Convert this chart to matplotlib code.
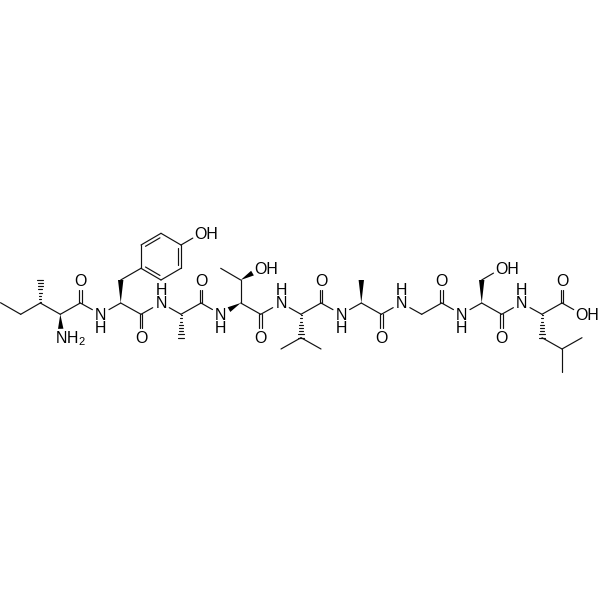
import numpy as np
import matplotlib
matplotlib.use("Agg")
import matplotlib.pyplot as plt
from matplotlib.collections import LineCollection
from matplotlib.patches import Polygon

plt.rcParams['font.family'] = ['Liberation Sans', 'DejaVu Sans']
plt.rcParams['mathtext.default'] = 'regular'

# atom name, x, y
atom_names = ['e1','e2','ib','im','ia','n1','c1','o1','n2','ya','yb','r1','r2','r3','r4','r5','r6','oy',
              'c2','o2','n3','a1','am','c3','o3','n4','ta','tb','tm','ot','c4','o4','n5','va','vb','v1','v2',
              'c5','o5','n6','a2','bm','c6','o6','n7','gl','c7','o7','n8','sa','sb','os','c8','o8','n9','la',
              'lb','lg','l1','l2','c9','o9','oa']
atom_x = [0.5,20.7,40.3,40.3,60.3,61,80.3,80.3,100.7,120.7,120.7,141,141,161,181,181,161,201,
          141,141,161,181,181,201,201,220.7,240.7,240.7,220.7,260.7,260.7,260.7,281,301,301,281,321,
          321,321,341.3,361.3,361.3,381.3,381.3,401.5,421.7,441.7,441.7,461.7,481.7,481.7,501.7,501.7,501.7,521.7,542,
          542,562,582,562,562,562,582]
atom_y = [302.7,314.3,303,280,314.3,338.3,303,280.3,314.3,303,280,268.3,245,233.3,245,268.3,280,233.3,
          314.3,337.7,303,314.3,337.7,303,280.3,314.3,303,280,268.3,268.3,314.3,337.7,303,314.3,337.7,349,349,
          303,280.3,314.3,303,280,314.3,337.7,303,314.3,303,280.3,314.3,303,280,268.3,314.3,337.7,303,314.3,
          337.7,349,337.7,372,303,280.3,314.3]

single_bonds = [('e1','e2'),('e2','ib'),('ib','ia'),('ia','c1'),('c1','n2'),('n2','ya'),('ya','c2'),
                ('yb','r1'),('r1','r2'),('r3','r4'),('r5','r6'),('r4','oy'),
                ('c2','n3'),('n3','a1'),('a1','c3'),('c3','n4'),('ta','tb'),('tb','tm'),('ta','c4'),
                ('c4','n5'),('n5','va'),('va','c5'),('vb','v1'),('vb','v2'),('c5','n6'),('n6','a2'),('a2','c6'),
                ('c6','n7'),('n7','gl'),('gl','c7'),('c7','n8'),('n8','sa'),('sa','c8'),('sb','os'),
                ('c8','n9'),('n9','la'),('la','c9'),('lb','lg'),('lg','l1'),('lg','l2'),('c9','oa')]
carbonyl_bonds = [('c1','o1'),('c2','o2'),('c3','o3'),('c4','o4'),('c5','o5'),('c6','o6'),('c7','o7'),('c8','o8'),('c9','o9')]
ring_double_bonds = [('r2','r3'),('r4','r5'),('r6','r1')]
wedge_bonds = [('ia','n1'),('ya','yb'),('ta','n4'),('tb','ot'),('a2','bm'),('sa','sb')]
hash_bonds = [('ib','im'),('a1','am'),('va','vb'),('la','lb')]

nh_down = ['n2','n4','n6','n8']
nh_up = ['n3','n5','n7','n9']
oxygens = ['o1','o2','o3','o4','o5','o6','o7','o8','o9']
hydroxyls = ['oy','ot','os','oa']
amines = ['n1']

pos = {n: np.array([x, y]) for n, x, y in zip(atom_names, atom_x, atom_y)}
labelled = set(nh_down + nh_up + oxygens + hydroxyls + amines)
GAP = 9.5
RING_CENTER = np.mean([pos[k] for k in ('r1','r2','r3','r4','r5','r6')], axis=0)

fig = plt.figure(figsize=(6, 6), dpi=100, facecolor='white')
ax = fig.add_axes([0, 0, 1, 1])
ax.set_xlim(0, 600)
ax.set_ylim(600, 0)
ax.axis('off')


def ends(a, b):
    p, q = pos[a].copy(), pos[b].copy()
    u = (q - p) / np.linalg.norm(q - p)
    if a in labelled:
        p = p + u * GAP
    if b in labelled:
        q = q - u * GAP
    return p, q, u


segments = []
for a, b in single_bonds:
    p, q, _ = ends(a, b)
    segments.append([p, q])
for a, b in carbonyl_bonds:
    p, q, u = ends(a, b)
    n = np.array([-u[1], u[0]])
    segments.append([p + n * 1.4, q + n * 1.4])
    segments.append([p - n * 1.4, q - n * 1.4])
for a, b in ring_double_bonds:
    p, q, u = ends(a, b)
    segments.append([p, q])
    n = np.array([-u[1], u[0]])
    if np.dot(RING_CENTER - p, n) < 0:
        n = -n
    segments.append([p + n * 3.4 + u * 3.2, q + n * 3.4 - u * 3.2])
for a, b in hash_bonds:
    p, q, u = ends(a, b)
    n = np.array([-u[1], u[0]])
    length = np.linalg.norm(q - p)
    for t in np.linspace(0.04, 1.0, 8):
        c = p + u * length * t
        w = 0.4 + 2.5 * t
        segments.append([c - n * w, c + n * w])
ax.add_collection(LineCollection(segments, colors='#111111', linewidths=0.85, capstyle='round'))

for a, b in wedge_bonds:
    p, q, u = ends(a, b)
    n = np.array([-u[1], u[0]])
    ax.add_patch(Polygon([p, q + n * 2.7, q - n * 2.7], closed=True, fc='black', ec='none'))

FS = 11.4
BASE = 5.4
kw = dict(fontsize=FS, color='black', va='baseline')
for k in nh_down + nh_up + oxygens:
    ax.text(pos[k][0], pos[k][1] + BASE, 'O' if k in oxygens else 'N', ha='center', **kw)
for k in nh_down:
    ax.text(pos[k][0], pos[k][1] + BASE + 13.7, 'H', ha='center', **kw)
for k in nh_up:
    ax.text(pos[k][0], pos[k][1] + BASE - 13.7, 'H', ha='center', **kw)
for k in hydroxyls:
    ax.text(pos[k][0] - 6.3, pos[k][1] + BASE, 'OH', ha='left', **kw)
for k in amines:
    ax.text(pos[k][0] - 5.8, pos[k][1] + BASE, 'NH$_2$', ha='left', **kw)

fig.savefig('out.png', dpi=100, facecolor='white')
